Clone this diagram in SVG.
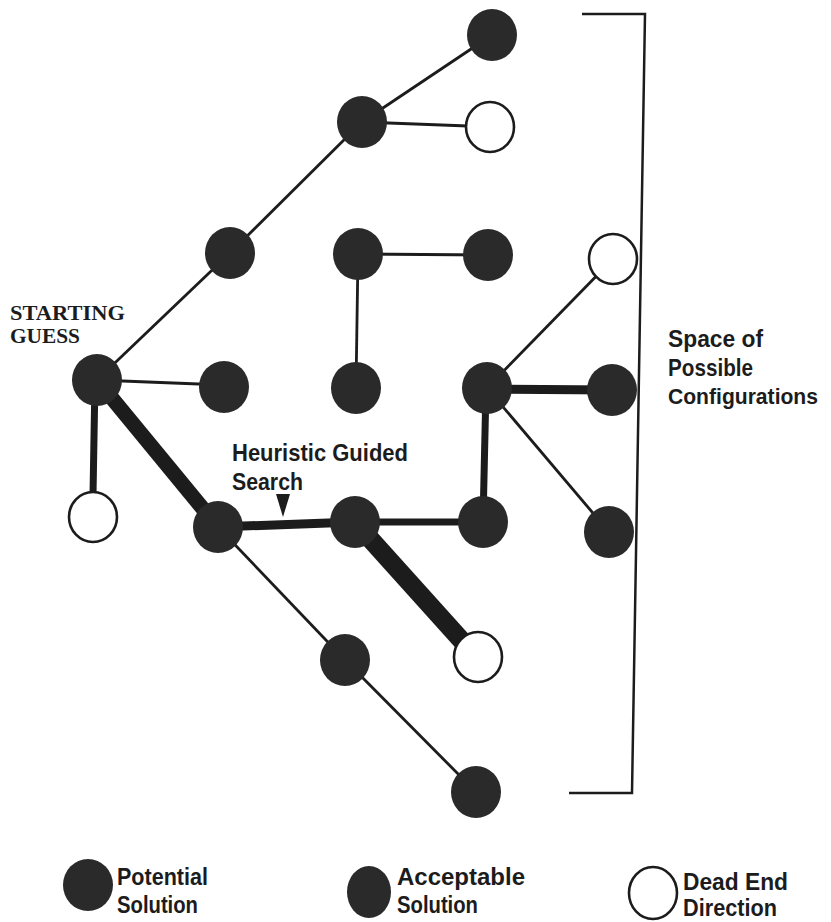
<svg xmlns="http://www.w3.org/2000/svg" width="831" height="922" viewBox="0 0 831 922">
<style>
.bg{fill:#ffffff}
.e{stroke:#1c1c1c;stroke-linecap:butt;fill:none}
.t1{stroke-width:2.8}
.t2{stroke-width:7}
.t3{stroke-width:9}
.t4{stroke-width:15}
.t5{stroke-width:19}
.full{fill:#2a2a2a}
.open{fill:#ffffff;stroke:#1c1c1c;stroke-width:2.6}
.lbl{font-family:"Liberation Sans",Arial,sans-serif;font-weight:bold;font-size:24px;fill:#1c1c1c}
.serif{font-family:"Liberation Serif","Times New Roman",serif;font-weight:bold;font-size:20px;fill:#1c1c1c}
.br{stroke:#1c1c1c;stroke-width:2.5;fill:none}
</style>
<rect class="bg" x="0" y="0" width="831" height="922"/>
<g id="connectors">
<line class="e t1" x1="97" y1="380" x2="230" y2="253"/>
<line class="e t1" x1="230" y1="253" x2="362" y2="122"/>
<line class="e t1" x1="362" y1="122" x2="492" y2="35"/>
<line class="e t1" x1="362" y1="122" x2="468" y2="126"/>
<line class="e t1" x1="358" y1="254" x2="488" y2="255"/>
<line class="e t1" x1="358" y1="254" x2="356" y2="388"/>
<line class="e t1" x1="97" y1="380" x2="224" y2="385"/>
<line class="e t2" x1="95" y1="380" x2="93" y2="495"/>
<line class="e t4" x1="97" y1="380" x2="218" y2="527"/>
<line class="e t3" x1="218" y1="527" x2="355" y2="522"/>
<line class="e t2" x1="355" y1="522" x2="483" y2="522"/>
<line class="e t5" x1="355" y1="522" x2="463" y2="642"/>
<line class="e t2" x1="483" y1="522" x2="486" y2="388"/>
<line class="e t3" x1="487" y1="389" x2="612" y2="390"/>
<line class="e t1" x1="487" y1="388" x2="613" y2="259"/>
<line class="e t1" x1="487" y1="388" x2="609" y2="532"/>
<line class="e t1" x1="218" y1="527" x2="345" y2="660"/>
<line class="e t1" x1="345" y1="660" x2="476" y2="792"/>
</g>
<g id="n1"><ellipse class="full" cx="492" cy="35" rx="25" ry="26"/></g>
<g id="n2"><ellipse class="full" cx="362" cy="122" rx="25" ry="26"/></g>
<g id="n3"><ellipse class="open" cx="490" cy="127" rx="24" ry="25"/></g>
<g id="n4"><ellipse class="full" cx="230" cy="253" rx="25" ry="26"/></g>
<g id="n5"><ellipse class="full" cx="358" cy="254" rx="25" ry="26"/></g>
<g id="n6"><ellipse class="full" cx="488" cy="255" rx="25" ry="26"/></g>
<g id="n7"><ellipse class="open" cx="613" cy="259" rx="24" ry="25"/></g>
<g id="n8"><ellipse class="full" cx="97" cy="380" rx="25" ry="26"/></g>
<g id="n9"><ellipse class="full" cx="224" cy="387" rx="25" ry="26"/></g>
<g id="n10"><ellipse class="full" cx="356" cy="388" rx="25" ry="26"/></g>
<g id="n11"><ellipse class="full" cx="487" cy="388" rx="25" ry="26"/></g>
<g id="n12"><ellipse class="full" cx="612" cy="390" rx="25" ry="26"/></g>
<g id="n13"><ellipse class="open" cx="93" cy="517" rx="24" ry="25"/></g>
<g id="n14"><ellipse class="full" cx="218" cy="527" rx="25" ry="26"/></g>
<g id="n15"><ellipse class="full" cx="355" cy="522" rx="25" ry="26"/></g>
<g id="n16"><ellipse class="full" cx="483" cy="522" rx="25" ry="26"/></g>
<g id="n17"><ellipse class="full" cx="609" cy="532" rx="25" ry="26"/></g>
<g id="n18"><ellipse class="full" cx="345" cy="660" rx="25" ry="26"/></g>
<g id="n19"><ellipse class="open" cx="478" cy="657" rx="24" ry="25"/></g>
<g id="n20"><ellipse class="full" cx="476" cy="792" rx="25" ry="26"/></g>
<g id="start-label">
<text class="serif" x="10" y="320" textLength="115" lengthAdjust="spacingAndGlyphs">STARTING</text>
<text class="serif" x="10" y="343" textLength="70" lengthAdjust="spacingAndGlyphs">GUESS</text>
</g>
<g id="heuristic-label">
<text class="lbl" x="232" y="461" textLength="176" lengthAdjust="spacingAndGlyphs">Heuristic Guided</text>
<text class="lbl" x="232" y="490" textLength="71" lengthAdjust="spacingAndGlyphs">Search</text>
<polygon points="276,494 290,494 283,517" fill="#1c1c1c"/>
</g>
<g id="space-bracket">
<polyline class="br" points="582,14 645,14 632,793 569,793"/>
<text class="lbl" x="668" y="347" textLength="95" lengthAdjust="spacingAndGlyphs">Space of</text>
<text class="lbl" x="668" y="376" textLength="85" lengthAdjust="spacingAndGlyphs">Possible</text>
<text class="lbl" x="668" y="404" font-size="22" style="font-size:22px" textLength="150" lengthAdjust="spacingAndGlyphs">Configurations</text>
</g>
<g id="legend-potential">
<ellipse class="full" cx="88" cy="885" rx="25" ry="26"/>
<text class="lbl" x="117" y="885" textLength="91" lengthAdjust="spacingAndGlyphs">Potential</text>
<text class="lbl" x="117" y="913" textLength="81" lengthAdjust="spacingAndGlyphs">Solution</text>
</g>
<g id="legend-acceptable">
<ellipse class="full" cx="369" cy="892" rx="22" ry="26"/>
<text class="lbl" x="397" y="885" textLength="128" lengthAdjust="spacingAndGlyphs">Acceptable</text>
<text class="lbl" x="397" y="913" textLength="81" lengthAdjust="spacingAndGlyphs">Solution</text>
</g>
<g id="legend-deadend">
<ellipse class="open" cx="653" cy="893" rx="24" ry="26"/>
<text class="lbl" x="683" y="890" textLength="105" lengthAdjust="spacingAndGlyphs">Dead End</text>
<text class="lbl" x="683" y="916" textLength="94" lengthAdjust="spacingAndGlyphs">Direction</text>
</g>
</svg>
